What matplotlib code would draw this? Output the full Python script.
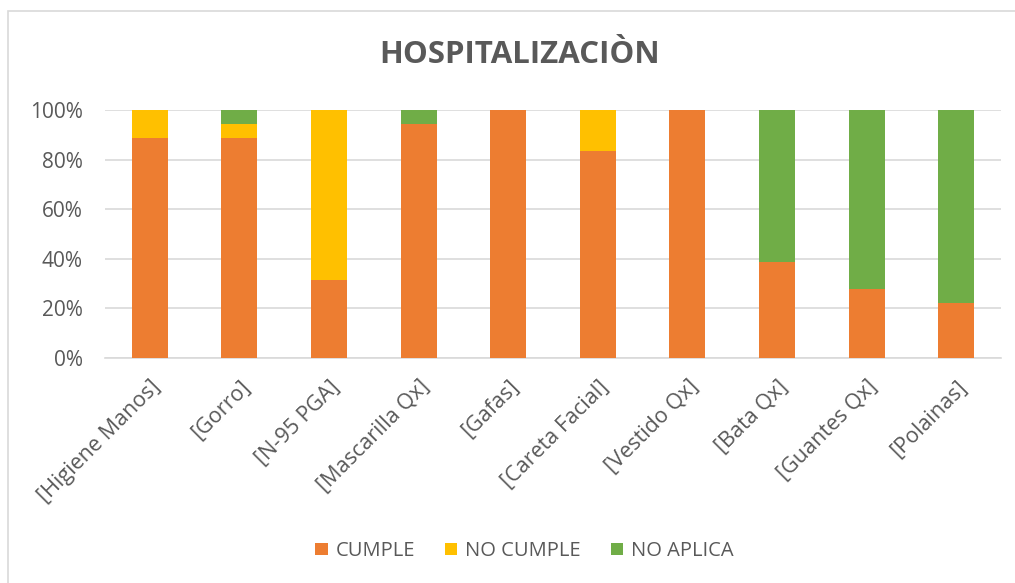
import matplotlib
matplotlib.use("Agg")
import matplotlib.pyplot as plt
from matplotlib.patches import Rectangle
from matplotlib.ticker import PercentFormatter

categories = ["[Higiene Manos]", "[Gorro]", "[N-95 PGA]", "[Mascarilla Qx]", "[Gafas]",
              "[Careta Facial]", "[Vestido Qx]", "[Bata Qx]", "[Guantes Qx]", "[Polainas]"]
cumple = [88.9, 88.9, 31.6, 94.4, 100.0, 83.3, 100.0, 38.9, 27.8, 22.2]
no_cumple = [11.1, 5.6, 68.4, 0.0, 0.0, 16.7, 0.0, 0.0, 0.0, 0.0]
no_aplica = [0.0, 5.5, 0.0, 5.6, 0.0, 0.0, 0.0, 61.1, 72.2, 77.8]
series_names = ["CUMPLE", "NO CUMPLE", "NO APLICA"]
colors = ["#ED7D31", "#FFC000", "#70AD47"]

plt.rcParams['font.family'] = ['Open Sans', 'DejaVu Sans']
txt = "#595959"

fig = plt.figure(figsize=(10.15, 5.83), dpi=100)
fig.patches.append(Rectangle((8/1015, -0.1), 1.2, (583-11)/583 + 0.1, transform=fig.transFigure,
                             fill=False, edgecolor="#d9d9d9", linewidth=1.2, zorder=0))
ax = fig.add_axes([105/1015, (583-358)/583, 896/1015, 248/583])

x = list(range(len(categories)))
bottom2 = [a + b for a, b in zip(cumple, no_cumple)]
w = 0.4
ax.bar(x, cumple, width=w, color=colors[0], label=series_names[0], zorder=3)
ax.bar(x, no_cumple, width=w, bottom=cumple, color=colors[1], label=series_names[1], zorder=3)
ax.bar(x, no_aplica, width=w, bottom=bottom2, color=colors[2], label=series_names[2], zorder=3)

ax.set_xlim(-0.5, len(categories) - 0.5)
ax.set_ylim(0, 100)
ax.set_yticks([0, 20, 40, 60, 80, 100])
ax.yaxis.set_major_formatter(PercentFormatter(decimals=0))
ax.grid(axis='y', color='#d9d9d9', linewidth=1.2, zorder=0)
for s in ['top', 'right', 'left']:
    ax.spines[s].set_visible(False)
ax.spines['bottom'].set_color('#d9d9d9')
ax.spines['bottom'].set_linewidth(1.2)
ax.tick_params(axis='both', length=0, colors=txt, labelsize=15)
ax.tick_params(axis='y', pad=16)
ax.set_xticks(x)
ax.set_xticklabels(categories, rotation=45, ha='right', rotation_mode='anchor', fontsize=15.5)
ax.tick_params(axis='x', pad=13)

fig.text(0.512, 1 - 55/583, "HOSPITALIZACIÒN", ha='center', va='center', fontsize=22.5,
         fontweight='bold', color=txt)

fig.legend(loc='center', bbox_to_anchor=(0.517, 1 - 551/583), ncol=3, frameon=False,
           fontsize=14.5, labelcolor=txt, handlelength=0.6, handleheight=0.6,
           columnspacing=1.5, handletextpad=0.4)

fig.savefig("out.png", dpi=100)
